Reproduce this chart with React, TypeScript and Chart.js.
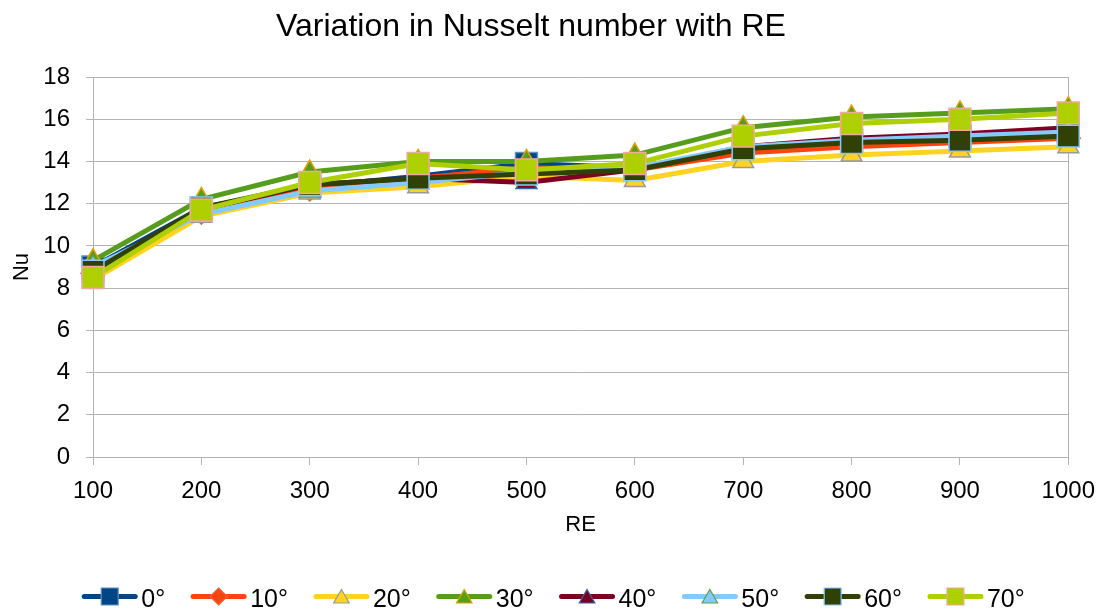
import React, { useEffect, useRef } from 'react';
import { Chart, registerables } from 'chart.js';

Chart.register(...registerables);

const categories = ['100', '200', '300', '400', '500', '600', '700', '800', '900', '1000'];
const seriesNames = ['0°', '10°', '20°', '30°', '40°', '50°', '60°', '70°'];
const s0 = [9.0, 11.8, 12.8, 13.3, 13.9, 13.7, 14.6, 15.0, 15.2, 15.4];
const s10 = [8.7, 11.6, 12.7, 13.2, 13.7, 13.6, 14.4, 14.7, 14.9, 15.1];
const s20 = [8.4, 11.4, 12.5, 12.8, 13.3, 13.1, 14.0, 14.3, 14.5, 14.7];
const s30 = [9.3, 12.2, 13.5, 14.0, 14.0, 14.3, 15.6, 16.1, 16.3, 16.5];
const s40 = [8.9, 11.7, 12.9, 13.2, 13.0, 13.6, 14.7, 15.1, 15.3, 15.6];
const s50 = [9.0, 11.5, 12.6, 13.0, 13.5, 13.7, 14.7, 15.0, 15.2, 15.4];
const s60 = [8.8, 11.8, 12.9, 13.2, 13.4, 13.6, 14.6, 14.9, 15.0, 15.2];
const s70 = [8.5, 11.7, 13.0, 13.9, 13.6, 13.9, 15.2, 15.8, 16.0, 16.3];
const yTicks = [0, 2, 4, 6, 8, 10, 12, 14, 16, 18];

const lineColors = ['#004586', '#ff420e', '#ffd320', '#579d1c', '#7e0021', '#83caff', '#314004', '#aecf00'];
const markerBorders = ['#5f8fc5', '#d9683f', '#999999', '#e6a000', '#3465a4', '#5ea04a', '#83caff', '#f0a8a0'];
const markerStyles = ['rect', 'rectRot', 'triangle', 'triangle', 'triangle', 'triangle', 'rect', 'rect'];
const allSeries = [s0, s10, s20, s30, s40, s50, s60, s70];

const FONT = "'Liberation Sans', Arial, sans-serif";
const GRID = '#b3b3b3';

function drawMarker(ctx: CanvasRenderingContext2D, style: string, x: number, y: number, r: number) {
  ctx.beginPath();
  if (style === 'rect') {
    const s = r * Math.SQRT1_2;
    ctx.rect(x - s, y - s, 2 * s, 2 * s);
  } else if (style === 'rectRot') {
    ctx.moveTo(x, y - r);
    ctx.lineTo(x + r, y);
    ctx.lineTo(x, y + r);
    ctx.lineTo(x - r, y);
    ctx.closePath();
  } else {
    for (let k = 0; k < 3; k++) {
      const a = (k * 2 * Math.PI) / 3;
      const px = x + Math.sin(a) * r;
      const py = y - Math.cos(a) * r;
      if (k === 0) ctx.moveTo(px, py);
      else ctx.lineTo(px, py);
    }
    ctx.closePath();
  }
  ctx.fill();
  ctx.stroke();
}

const titlePlugin = {
  id: 'customTitle',
  afterDraw(chart: any) {
    const ctx = chart.ctx as CanvasRenderingContext2D;
    ctx.save();
    ctx.font = `32px ${FONT}`;
    ctx.fillStyle = '#000';
    ctx.textAlign = 'center';
    ctx.textBaseline = 'alphabetic';
    ctx.fillText('Variation in Nusselt number with RE', 531, 36);
    ctx.restore();
  },
};

const legendPlugin = {
  id: 'customLegend',
  afterDraw(chart: any) {
    const ctx = chart.ctx as CanvasRenderingContext2D;
    ctx.save();
    ctx.font = `25px ${FONT}`;
    const lineW = 55;
    const gapText = 4;
    const spacing = 26;
    const widths = seriesNames.map((n) => lineW + gapText + ctx.measureText(n).width);
    const total = widths.reduce((a, b) => a + b, 0) + spacing * (seriesNames.length - 1);
    let x = chart.width / 2 - total / 2;
    const cy = 596.5;
    seriesNames.forEach((name, i) => {
      ctx.strokeStyle = lineColors[i];
      ctx.lineWidth = 5;
      ctx.lineCap = 'round';
      ctx.beginPath();
      ctx.moveTo(x + 2, cy);
      ctx.lineTo(x + lineW - 2, cy);
      ctx.stroke();
      ctx.fillStyle = lineColors[i];
      ctx.strokeStyle = markerBorders[i];
      ctx.lineWidth = 1.2;
      const st = markerStyles[i];
      const r = st === 'rect' ? 12 : st === 'rectRot' ? 8.5 : 9;
      drawMarker(ctx, st, x + lineW / 2, st === 'triangle' ? cy + 2 : cy, r);
      ctx.fillStyle = '#000';
      ctx.textAlign = 'left';
      ctx.textBaseline = 'alphabetic';
      ctx.fillText(name, x + lineW + gapText, 607);
      x += widths[i] + spacing;
    });
    ctx.restore();
  },
};

export default function App() {
  const ref = useRef<HTMLCanvasElement | null>(null);

  useEffect(() => {
    if (!ref.current) return;
    const datasets = allSeries.map((data, i) => {
      const st = markerStyles[i];
      return {
        label: seriesNames[i],
        data,
        borderColor: lineColors[i],
        backgroundColor: lineColors[i],
        borderWidth: 5,
        pointStyle: st,
        pointRadius: st === 'rect' ? 15.5 : 12,
        pointBackgroundColor: lineColors[i],
        pointBorderColor: markerBorders[i],
        pointBorderWidth: 1.5,
        tension: 0,
        order: 7 - i,
      };
    });
    const chart = new Chart(ref.current, {
      type: 'line',
      data: { labels: categories, datasets },
      options: {
        animation: false,
        responsive: false,
        devicePixelRatio: 1,
        layout: { padding: { top: 77, right: 37, bottom: 75, left: 0 } },
        plugins: {
          legend: { display: false },
          title: { display: false },
          tooltip: { enabled: false },
        },
        scales: {
          x: {
            type: 'category',
            offset: false,
            grid: {
              display: true,
              drawOnChartArea: true,
              color: (c: any) => (c.index === categories.length - 1 ? GRID : 'rgba(0,0,0,0)'),
              tickColor: GRID,
              tickLength: 8,
              lineWidth: 1,
            },
            border: { display: true, color: GRID },
            ticks: { color: '#000', font: { family: FONT, size: 24 }, padding: 12, maxRotation: 0, autoSkip: false },
            title: { display: true, text: 'RE', color: '#000', font: { family: FONT, size: 22 }, padding: { top: 0, bottom: 0 } },
            afterFit: (s: any) => {
              s.height = 81;
            },
          },
          y: {
            min: 0,
            max: 18,
            afterBuildTicks: (s: any) => {
              s.ticks = yTicks.map((v) => ({ value: v }));
            },
            grid: { color: GRID, tickColor: GRID, tickLength: 7, lineWidth: 1 },
            border: { display: true, color: GRID },
            ticks: { color: '#000', font: { family: FONT, size: 24 }, padding: 16 },
            title: { display: true, text: 'Nu', color: '#000', font: { family: FONT, size: 22 }, padding: { top: 9, bottom: 0 } },
            afterFit: (s: any) => {
              s.width = 93;
            },
          },
        },
      },
      plugins: [titlePlugin, legendPlugin],
    } as any);
    return () => chart.destroy();
  }, []);

  return (
    <canvas
      ref={ref}
      width={1107}
      height={613}
      style={{ position: 'fixed', left: 0, top: 0, width: '1107px', height: '613px', display: 'block', background: '#fff' }}
    />
  );
}
